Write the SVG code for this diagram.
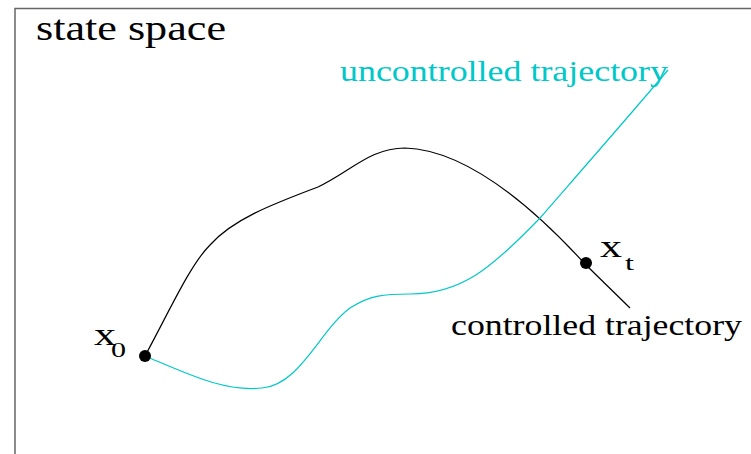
<svg xmlns="http://www.w3.org/2000/svg" width="751" height="454" viewBox="0 0 751 454">
<style>
.t{font-family:"Liberation Serif","Times New Roman",serif;}
.frame{fill:none;stroke:#666;stroke-width:1.5;}
.ctrl{fill:none;stroke:#000;stroke-width:1.2;}
.unc{fill:none;stroke:#00c8c8;stroke-width:1.2;}
</style>
<rect width="751" height="454" fill="#fff"/>
<path class="frame" d="M15,454 V8.5 H751"/>
<text class="t" x="36" y="40" font-size="35" fill="#000" textLength="190" lengthAdjust="spacingAndGlyphs">state space</text>
<g id="connectors">
<path id="controlled" class="ctrl" d="M145,356 C170,310 190,265 210,245 C232,220 270,205 318,187 C350,172 370,148 405,148 C470,150 540,215 585,264 L630,308"/>
<path id="uncontrolled" class="unc" d="M145,356 C190,375 225,392 262,388 C300,385 320,330 350,308 C370,295 385,294 410,294 C460,294 490,270 540,218 C580,172 630,115 668,70"/>
</g>
<g id="x0"><circle cx="145" cy="356" r="6" fill="#000"/>
<text class="t" x="94" y="345" font-size="32" textLength="22" lengthAdjust="spacingAndGlyphs">x</text><text class="t" x="111" y="357" font-size="21" textLength="15" lengthAdjust="spacingAndGlyphs">0</text></g>
<g id="xt"><circle cx="586" cy="263" r="6" fill="#000"/>
<text class="t" x="600" y="257" font-size="32" textLength="22" lengthAdjust="spacingAndGlyphs">x</text><text class="t" x="625" y="270" font-size="22" textLength="9" lengthAdjust="spacingAndGlyphs">t</text></g>
<g id="label-uncontrolled"><text class="t" x="340" y="81" font-size="29" fill="#00c8c8" textLength="328" lengthAdjust="spacingAndGlyphs">uncontrolled trajectory</text></g>
<g id="label-controlled"><text class="t" x="451" y="335" font-size="29" fill="#000" textLength="291" lengthAdjust="spacingAndGlyphs">controlled trajectory</text></g>
</svg>
